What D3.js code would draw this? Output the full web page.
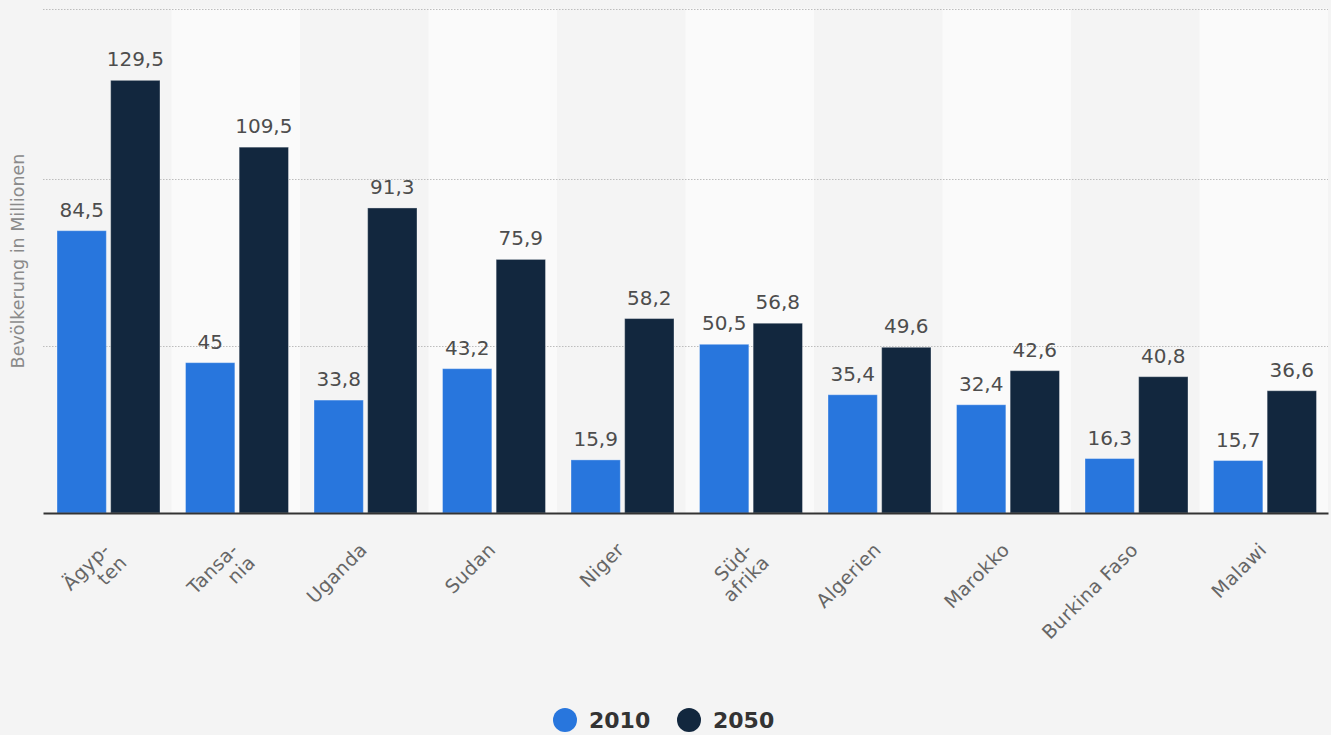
<!DOCTYPE html>
<meta charset="utf-8">
<style>
  body { margin: 0; background: #f4f4f4; }
  svg { display: block; font-family: "DejaVu Sans", Verdana, sans-serif; }
  .grid line { stroke: #bdbdbd; stroke-dasharray: 1.5,1.5; }
  .axis--x .domain { stroke: #333; stroke-width: 2; }
  .value { fill: #4d4d4d; font-size: 20px; text-anchor: middle; }
  .cat { fill: #666; font-size: 19px; text-anchor: end; letter-spacing: 0.4px; }
</style>
<body>
<script src="https://d3js.org/d3.v7.min.js"></script>
<script>

  var categories = ["Ägyp-\nten", "Tansa-\nnia", "Uganda", "Sudan", "Niger",
    "Süd-\nafrika", "Algerien", "Marokko", "Burkina Faso", "Malawi"];
  var seriesNames = ["2010", "2050"];
  var values2010 = [84.5, 45, 33.8, 43.2, 15.9, 50.5, 35.4, 32.4, 16.3, 15.7];
  var values2050 = [129.5, 109.5, 91.3, 75.9, 58.2, 56.8, 49.6, 42.6, 40.8, 36.6];
  var gridTicks = [50, 100];
  var colors = ["#2876dd", "#12273e"];

  var width = 1331, height = 735;
  var plotLeft = 43, plotRight = 1328, plotTop = 8.5, plotBottom = 513;

  var svg = d3.select("body").append("svg")
    .attr("width", width)
    .attr("height", height);

  svg.append("rect").attr("width", width).attr("height", height).attr("fill", "#f4f4f4");

  var x = d3.scaleBand().domain(categories).range([plotLeft, plotRight]);
  var x1 = d3.scaleBand().domain(seriesNames)
    .range([14, x.bandwidth() - 11.5])
    .paddingInner(0.08);
  var y = d3.scaleLinear().domain([0, 151]).range([plotBottom, plotTop]);

  // alternating column stripes
  svg.append("g").selectAll("rect")
    .data(categories.filter(function (d, i) { return i % 2 === 1; }))
    .join("rect")
    .attr("x", function (d) { return x(d); })
    .attr("y", plotTop)
    .attr("width", x.bandwidth())
    .attr("height", plotBottom - plotTop)
    .attr("fill", "#fafafa");

  // grid
  svg.append("g")
    .attr("class", "grid")
    .selectAll("line")
    .data(gridTicks.concat([y.domain()[1]]))
    .join("line")
    .attr("x1", plotLeft).attr("x2", plotRight)
    .attr("y1", function (d) { return Math.round(y(d)) + 0.5; })
    .attr("y2", function (d) { return Math.round(y(d)) + 0.5; });

  var rows = categories.map(function (c, i) {
    return { cat: c, vals: [values2010[i], values2050[i]] };
  });

  var groups = svg.append("g").selectAll("g")
    .data(rows)
    .join("g")
    .attr("transform", function (d) { return "translate(" + x(d.cat) + ",0)"; });

  groups.selectAll("rect")
    .data(function (d) { return d.vals.map(function (v, j) { return { key: seriesNames[j], v: v, j: j }; }); })
    .join("rect")
    .attr("x", function (d) { return x1(d.key); })
    .attr("y", function (d) { return y(d.v); })
    .attr("width", x1.bandwidth())
    .attr("height", function (d) { return y(0) - y(d.v); })
    .attr("fill", function (d) { return colors[d.j]; })
    .attr("stroke", "#fff")
    .attr("stroke-opacity", 0.35)
    .attr("stroke-width", 1);

  groups.selectAll("text")
    .data(function (d) { return d.vals.map(function (v, j) { return { key: seriesNames[j], v: v }; }); })
    .join("text")
    .attr("class", "value")
    .attr("x", function (d) { return x1(d.key) + x1.bandwidth() / 2; })
    .attr("y", function (d) { return y(d.v) - 14; })
    .text(function (d) { return String(d.v).replace(".", ","); });

  // x axis
  var xAxis = d3.axisBottom(x).tickSize(0).tickFormat("");
  svg.append("g")
    .attr("class", "axis axis--x")
    .attr("transform", "translate(0," + plotBottom + ")")
    .call(xAxis);

  var labels = svg.append("g").selectAll("text")
    .data(categories)
    .join("text")
    .attr("class", "cat")
    .attr("transform", function (d) {
      return "translate(" + (x(d) + x.bandwidth() / 2 + 4) + ",551) rotate(-45)";
    });
  labels.each(function (d) {
    var parts = d.split("\n");
    d3.select(this).selectAll("tspan")
      .data(parts)
      .join("tspan")
      .attr("x", function (p, i) { return i * 3; })
      .attr("dy", function (p, i) { return i ? "1.1em" : 0; })
      .text(function (p) { return p; });
  });

  // y title
  svg.append("text")
    .attr("transform", "translate(24,261) rotate(-90)")
    .attr("text-anchor", "middle")
    .attr("fill", "#8a8a8a")
    .attr("font-size", 17.5)
    .text("Bevölkerung in Millionen");

  // legend
  var legend = svg.append("g").selectAll("g")
    .data(seriesNames)
    .join("g")
    .attr("transform", function (d, i) { return "translate(" + (565 + i * 124) + ",720)"; });
  legend.append("circle").attr("r", 12).attr("fill", function (d, i) { return colors[i]; });
  legend.append("text")
    .attr("x", 24).attr("dy", "0.36em")
    .attr("font-size", 22).attr("font-weight", "bold").attr("fill", "#333")
    .text(function (d) { return d; });

</script>
